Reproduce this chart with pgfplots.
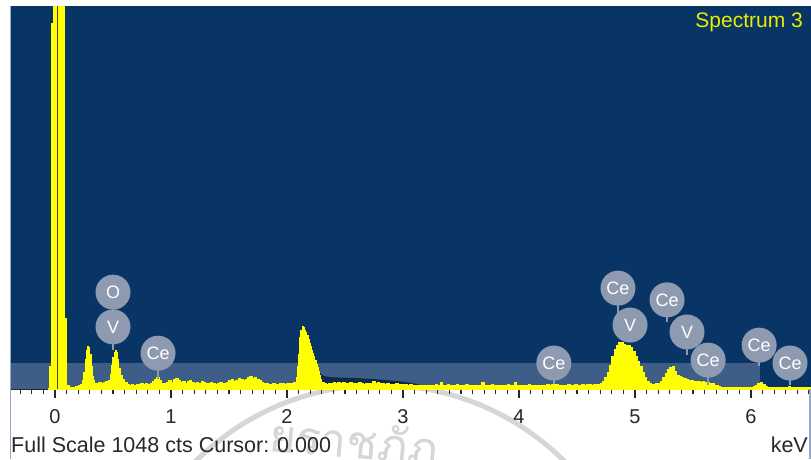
\documentclass[border=0pt]{standalone}
\usepackage{pgfplots}
\pgfplotsset{compat=1.18}
\usepackage{fontspec}
\setmainfont{Liberation Sans}
\newfontfamily\thaifont[Script=Thai]{Loma}

\definecolor{specbg}{RGB}{8,53,101}
\definecolor{bandcol}{RGB}{62,94,136}
\definecolor{shadowcol}{RGB}{12,40,78}
\definecolor{specyellow}{RGB}{255,255,0}
\definecolor{labelgrey}{RGB}{142,154,176}
\definecolor{cursorcol}{RGB}{72,72,40}
\definecolor{axisgrey}{RGB}{40,40,40}
\definecolor{framecol}{RGB}{150,170,200}
\definecolor{stampcol}{RGB}{214,214,214}

% element marker: grey disc with white symbol
\tikzset{elabel/.style={circle, fill=labelgrey, draw=none, minimum size=35pt,
    inner sep=0pt, text=white, font=\fontsize{18}{20}\selectfont}}
\newcommand{\elabel}[3]{\node[elabel] at (axis cs:#1,#2) {#3};}
\newcommand{\estem}[3]{\draw[labelgrey, line width=2pt] (axis cs:#1,#2) -- (axis cs:#1,#3);}

\begin{document}
\begin{tikzpicture}[x=1pt,y=1pt]
\useasboundingbox (0,0) rectangle (811,459);
\fill[white] (0,0) rectangle (811,459);

% institutional stamp showing through the paper
\begin{scope}
  \clip (0,0) rectangle (811,70);
  \draw[stampcol, line width=5pt] (380,-187) circle (261);
  \node[anchor=base west, inner sep=0pt, text=stampcol, rotate=-5,
    font=\thaifont\fontsize{46}{50}\selectfont] at (268,8) {ยราชภัฏ};
\end{scope}

\begin{axis}[
  at={(10pt,70pt)}, anchor=south west,
  scale only axis, width=801pt, height=383pt,
  xmin=-0.388, xmax=6.517, ymin=0, ymax=1048,
  axis background/.style={fill=specbg},
  axis x line*=bottom, axis y line=none,
  x axis line style={draw=axisgrey, line width=1.5pt, -},
  xtick={0,...,6},
  minor xtick={-0.3,-0.2,-0.1,0.1,0.2,0.3,0.4,0.5,0.6,0.7,0.8,0.9,
    1.1,1.2,1.3,1.4,1.5,1.6,1.7,1.8,1.9,2.1,2.2,2.3,2.4,2.5,2.6,2.7,2.8,2.9,
    3.1,3.2,3.3,3.4,3.5,3.6,3.7,3.8,3.9,4.1,4.2,4.3,4.4,4.5,4.6,4.7,4.8,4.9,
    5.1,5.2,5.3,5.4,5.5,5.6,5.7,5.8,5.9,6.1,6.2,6.3,6.4,6.5},
  tick align=outside,
  major tick length=9pt, minor tick length=5pt,
  every tick/.style={draw=axisgrey, line width=1.2pt},
  xticklabel style={font=\fontsize{20}{24}\selectfont, text=axisgrey, yshift=-8pt},
  /pgf/number format/assume math mode=true,
  clip=true,
]

% highlighted low-count band
\addplot[fill=bandcol, draw=none] coordinates {(-0.4,71) (6.08,71)} \closedcycle;

% faint overlay spectrum behind the main one
\addplot[fill=shadowcol, draw=none] coordinates {
  (2.26,0) (2.28,46) (2.30,38) (2.34,34) (2.40,32) (2.50,31) (2.60,30) (2.70,28)
  (2.80,26) (2.90,23) (3.00,20) (3.10,15) (3.16,10) (3.18,0)} \closedcycle;

% spectrum (counts per channel, keV)
\addplot[const plot, fill=specyellow, draw=specyellow, line width=1.2pt] coordinates {
  (-0.06,0) (-0.05,60) (-0.03,1000) (-0.01,3000) (0.08,194) (0.10,8) (0.12,5) (0.14,4)
  (0.16,5) (0.18,6) (0.20,8) (0.22,12) (0.24,22) (0.25,45) (0.26,80) (0.27,105)
  (0.28,115) (0.29,113) (0.30,95) (0.31,60) (0.32,35) (0.33,22) (0.34,16) (0.36,14)
  (0.38,17) (0.40,15) (0.42,18) (0.44,20) (0.46,24) (0.48,40) (0.49,65) (0.50,85)
  (0.51,100) (0.52,105) (0.53,100) (0.54,80) (0.55,55) (0.56,38) (0.58,25) (0.60,18)
  (0.62,12) (0.64,10) (0.66,12) (0.68,10) (0.70,13) (0.72,11) (0.74,14) (0.76,12)
  (0.78,15) (0.80,13) (0.82,16) (0.84,20) (0.86,27) (0.88,30) (0.90,22) (0.92,16)
  (0.94,14) (0.96,18) (0.98,22) (1.00,18) (1.02,25) (1.04,28) (1.06,22) (1.08,18)
  (1.10,20) (1.12,16) (1.14,19) (1.16,22) (1.18,17) (1.20,15) (1.22,18) (1.24,16)
  (1.26,20) (1.28,17) (1.30,14) (1.32,16) (1.34,18) (1.36,15) (1.38,13) (1.40,15)
  (1.42,17) (1.44,14) (1.46,16) (1.48,18) (1.50,22) (1.52,25) (1.54,20) (1.56,24)
  (1.58,28) (1.60,26) (1.62,22) (1.64,25) (1.66,30) (1.68,33) (1.70,28) (1.72,31)
  (1.74,26) (1.76,22) (1.78,18) (1.80,15) (1.82,14) (1.84,12) (1.86,13) (1.88,14)
  (1.90,12) (1.92,13) (1.94,15) (1.96,14) (1.98,12) (2.00,14) (2.02,16) (2.04,15)
  (2.06,18) (2.08,30) (2.09,60) (2.10,95) (2.11,140) (2.12,160) (2.13,170) (2.14,168)
  (2.15,160) (2.16,155) (2.17,145) (2.18,135) (2.19,125) (2.20,115) (2.21,105) (2.22,98)
  (2.23,88) (2.24,78) (2.25,68) (2.26,58) (2.27,48) (2.28,36) (2.29,25) (2.30,18)
  (2.32,14) (2.34,13) (2.36,16) (2.38,15) (2.40,18) (2.42,16) (2.44,17) (2.46,15)
  (2.48,18) (2.50,16) (2.52,14) (2.54,17) (2.56,15) (2.58,16) (2.60,14) (2.62,18)
  (2.64,15) (2.66,13) (2.68,16) (2.70,14) (2.72,15) (2.74,20) (2.76,16) (2.78,18)
  (2.80,14) (2.82,15) (2.84,13) (2.86,14) (2.88,12) (2.90,13) (2.92,12) (2.94,14)
  (2.96,12) (2.98,11) (3.00,12) (3.02,11) (3.04,10) (3.06,11) (3.08,10) (3.10,9)
  (3.12,10) (3.14,9) (3.16,10) (3.18,9) (3.20,8) (3.22,9) (3.24,10) (3.26,8)
  (3.28,11) (3.30,9) (3.32,18) (3.34,10) (3.36,9) (3.38,11) (3.40,8) (3.42,10)
  (3.44,9) (3.46,12) (3.48,8) (3.50,10) (3.52,9) (3.54,11) (3.56,8) (3.58,10)
  (3.60,9) (3.62,8) (3.64,10) (3.66,9) (3.68,17) (3.70,10) (3.72,8) (3.74,9)
  (3.76,11) (3.78,8) (3.80,10) (3.82,9) (3.84,8) (3.86,10) (3.88,9) (3.90,11)
  (3.92,9) (3.94,8) (3.96,17) (3.98,10) (4.00,9) (4.02,8) (4.04,10) (4.06,9)
  (4.08,11) (4.10,9) (4.12,8) (4.14,10) (4.16,9) (4.18,8) (4.20,10) (4.22,9)
  (4.24,11) (4.26,10) (4.28,12) (4.30,13) (4.32,11) (4.34,9) (4.36,10) (4.38,8)
  (4.40,9) (4.42,11) (4.44,10) (4.46,9) (4.48,12) (4.50,10) (4.52,9) (4.54,11)
  (4.56,10) (4.58,12) (4.60,11) (4.62,10) (4.64,12) (4.66,11) (4.68,13) (4.70,15)
  (4.72,20) (4.74,30) (4.76,45) (4.78,65) (4.80,88) (4.82,108) (4.84,120) (4.86,128)
  (4.88,126) (4.90,122) (4.92,120) (4.94,118) (4.96,114) (4.98,102) (5.00,88) (5.02,74)
  (5.04,60) (5.06,46) (5.08,32) (5.10,20) (5.12,14) (5.14,12) (5.16,13) (5.18,14)
  (5.20,16) (5.22,20) (5.24,30) (5.26,42) (5.28,52) (5.30,58) (5.32,60) (5.34,48)
  (5.36,38) (5.38,33) (5.40,30) (5.42,28) (5.44,26) (5.46,24) (5.48,22) (5.50,21)
  (5.52,19) (5.54,20) (5.56,18) (5.58,19) (5.60,17) (5.62,18) (5.64,16) (5.66,14)
  (5.68,10) (5.70,8) (5.72,6) (5.74,5) (5.76,4) (5.78,5) (5.80,4) (5.82,5)
  (5.84,4) (5.86,5) (5.88,4) (5.90,4) (5.92,5) (5.94,4) (5.96,5) (5.98,4)
  (6.00,5) (6.02,6) (6.04,9) (6.06,15) (6.08,18) (6.10,11) (6.12,6) (6.14,5)
  (6.16,4) (6.18,5) (6.20,4) (6.22,5) (6.24,4) (6.26,5) (6.28,4) (6.30,5)
  (6.32,6) (6.34,5) (6.36,4) (6.38,5) (6.40,4) (6.42,5) (6.44,4) (6.46,5)
  (6.48,4) (6.50,5) (6.52,5)} \closedcycle;

% cursor position (0.000 keV channel)
\addplot[cursorcol, line width=1.6pt] coordinates {(0.02,0) (0.02,1048)};

% peak identification markers
\estem{0.50}{265}{107}
\estem{0.888}{98}{27}
\estem{4.30}{71}{14}
\estem{4.853}{276}{175}
\estem{4.957}{175}{129}
\estem{5.276}{244}{183}
\estem{5.448}{156}{93}
\estem{5.63}{79}{11}
\estem{6.07}{120}{63}
\estem{6.336}{71}{11}
\elabel{0.50}{265}{O}
\elabel{0.50}{170}{V}
\elabel{0.888}{98}{Ce}
\elabel{4.30}{71}{Ce}
\elabel{4.853}{276}{Ce}
\elabel{4.957}{175}{V}
\elabel{5.276}{244}{Ce}
\elabel{5.448}{156}{V}
\elabel{5.63}{79}{Ce}
\elabel{6.07}{120}{Ce}
\elabel{6.336}{71}{Ce}
\end{axis}

% frame edges
\draw[framecol, line width=1.5pt] (10.5,0) -- (10.5,453);
\draw[framecol, line width=1.5pt] (810.2,0) -- (810.2,70);

\node[anchor=base east, inner sep=0pt, text=specyellow!92!black,
  font=\fontsize{21}{24}\selectfont] at (803,431) {Spectrum 3};
\node[anchor=base west, inner sep=0pt, text=axisgrey,
  font=\fontsize{21.5}{24}\selectfont] at (11,7) {Full Scale 1048 cts Cursor: 0.000};
\node[anchor=base east, inner sep=0pt, text=axisgrey,
  font=\fontsize{21.5}{24}\selectfont] at (808,7) {keV};
\end{tikzpicture}
\end{document}
